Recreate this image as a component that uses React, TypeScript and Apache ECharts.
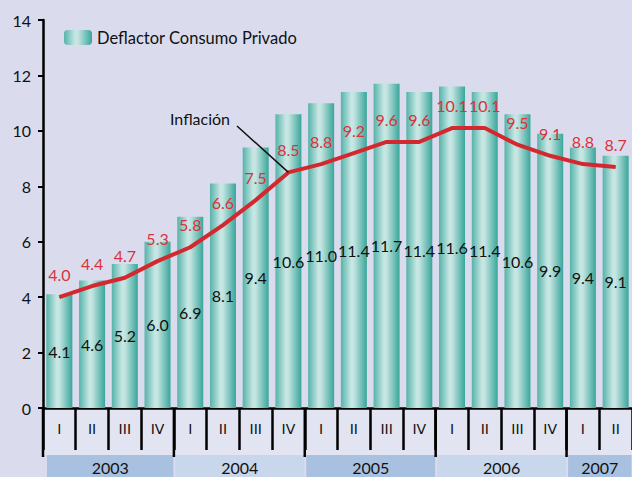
import React, { useEffect, useRef } from "react";
import * as echarts from "echarts";

const quarters = ["I", "II", "III", "IV", "I", "II", "III", "IV", "I", "II", "III", "IV", "I", "II", "III", "IV", "I", "II"];
const years = ["2003", "2004", "2005", "2006", "2007"];
const yearStarts = [0, 4, 8, 12, 16];
const yearEnds = [4, 8, 12, 16, 18];
const deflactor = [4.1, 4.6, 5.2, 6.0, 6.9, 8.1, 9.4, 10.6, 11.0, 11.4, 11.7, 11.4, 11.6, 11.4, 10.6, 9.9, 9.4, 9.1];
const inflacion = [4.0, 4.4, 4.7, 5.3, 5.8, 6.6, 7.5, 8.5, 8.8, 9.2, 9.6, 9.6, 10.1, 10.1, 9.5, 9.1, 8.8, 8.7];
const annotIndex = 7;

const FONT = "Lato, 'Noto Sans', sans-serif";
const QFONT = "'DejaVu Sans', sans-serif";

export default function App() {
  const ref = useRef<HTMLDivElement>(null);
  useEffect(() => {
    document.body.style.margin = "0";
    const chart = echarts.init(ref.current!, null, { renderer: "svg" });
    const barGrad = new echarts.graphic.LinearGradient(0, 0, 1, 0, [
      { offset: 0, color: "#55b3a9" },
      { offset: 0.4, color: "#c8e7e4" },
      { offset: 0.5, color: "#c3e4e1" },
      { offset: 1, color: "#38a69a" },
    ]);
    chart.setOption({
      animation: false,
      backgroundColor: "#dadcee",
      textStyle: { fontFamily: FONT },
      grid: { left: 43, width: 590, top: 20, bottom: 69, containLabel: false },
      legend: {
        left: 59,
        top: 24,
        itemWidth: 28,
        itemHeight: 15,
        itemGap: 10,
        data: ["Deflactor Consumo Privado"],
        textStyle: { fontSize: 16.5, color: "#111", fontFamily: FONT },
      },
      xAxis: {
        type: "category",
        data: quarters,
        boundaryGap: true,
        axisLine: { lineStyle: { color: "#000", width: 2.5 } },
        axisTick: { show: true, interval: 0, length: 42, lineStyle: { color: "#000", width: 2.5 } },
        axisLabel: { interval: 0, margin: 14, fontSize: 14, color: "#111", fontFamily: QFONT },
      },
      yAxis: {
        type: "value",
        min: 0,
        max: 14,
        interval: 2,
        splitLine: { show: false },
        axisLine: { show: true, lineStyle: { color: "#000", width: 2.5 } },
        axisTick: { show: true, length: 5, lineStyle: { color: "#000", width: 2 } },
        axisLabel: { fontSize: 16, color: "#111", margin: 12, fontFamily: FONT },
      },
      series: [
        {
          name: "Deflactor Consumo Privado",
          type: "bar",
          data: deflactor,
          barWidth: 26,
          itemStyle: { color: barGrad },
          label: {
            show: true,
            position: "inside",
            color: "#111",
            fontSize: 16,
            fontFamily: FONT,
            textBorderWidth: 0,
            formatter: (p: any) => p.value.toFixed(1),
          },
          z: 2,
        },
        {
          name: "Inflación",
          type: "line",
          data: inflacion,
          symbol: "circle",
          symbolSize: 1,
          showSymbol: true,
          itemStyle: { color: "#d4282f" },
          lineStyle: { color: "#d4282f", width: 4 },
          label: {
            show: true,
            position: "top",
            distance: 14,
            color: "#d9323a",
            fontSize: 16,
            fontFamily: FONT,
            formatter: (p: any) => p.value.toFixed(1),
          },
          z: 3,
        },
      ],
    });

    const cx = (i: number) => chart.convertToPixel({ xAxisIndex: 0 }, i) as number;
    const step = cx(1) - cx(0);
    const edge = (i: number) => cx(0) + (i - 0.5) * step;
    const y0 = chart.convertToPixel({ yAxisIndex: 0 }, 0) as number;
    const graphics: any[] = [];
    graphics.push({
      type: "rect",
      z: -10,
      silent: true,
      shape: { x: edge(0), y: y0, width: 632 - edge(0), height: 47 },
      style: { fill: "#e2e4f1" },
    });
    years.forEach((yr, k) => {
      const x1 = edge(yearStarts[k]) + (k === 0 ? 4 : 1.5);
      const x2 = Math.min(edge(yearEnds[k]) - 0.5, 634);
      graphics.push({
        type: "rect",
        z: -5,
        silent: true,
        shape: { x: x1, y: y0 + 47, width: x2 - x1, height: 30 },
        style: { fill: k % 2 === 0 ? "#a9c1e0" : "#c8d7ec" },
      });
      graphics.push({
        type: "text",
        z: 10,
        x: (x1 + Math.min(x2, 632)) / 2,
        y: y0 + 59,
        style: {
          text: yr,
          fill: "#111",
          font: `16px ${FONT}`,
          align: "center",
          verticalAlign: "middle",
        },
      });
      graphics.push({
        type: "line",
        z: 10,
        shape: { x1: edge(yearStarts[k]), y1: y0, x2: edge(yearStarts[k]), y2: y0 + 49 },
        style: { stroke: "#000", lineWidth: 2.5 },
      });
    });
    const pt = chart.convertToPixel({ gridIndex: 0 }, [annotIndex, inflacion[annotIndex]]) as number[];
    graphics.push({
      type: "text",
      z: 10,
      x: 200,
      y: 118,
      style: {
        text: "Inflación",
        fill: "#111",
        font: `16px ${FONT}`,
        align: "center",
        verticalAlign: "middle",
      },
    });
    graphics.push({
      type: "line",
      z: 10,
      shape: { x1: 237, y1: 126, x2: pt[0], y2: pt[1] },
      style: { stroke: "#111", lineWidth: 1.5 },
    });
    chart.setOption({ graphic: graphics });

    return () => chart.dispose();
  }, []);
  return <div ref={ref} style={{ width: 632, height: 477 }} />;
}
